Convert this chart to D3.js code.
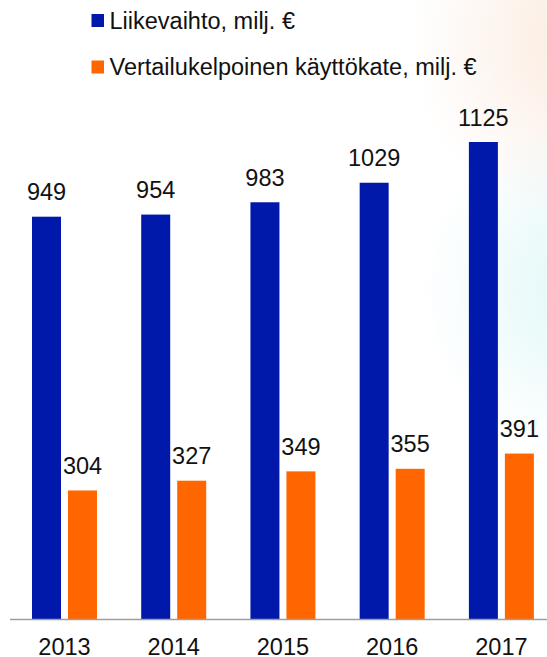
<!DOCTYPE html>
<html>
<head>
<meta charset="utf-8">
<script src="https://cdn.jsdelivr.net/npm/d3@7"></script>
<style>
  body { margin: 0; background: #fff; }
  svg { display: block; font-family: "Liberation Sans", Arial, sans-serif; }
</style>
</head>
<body>
<svg id="chart" width="547" height="657"></svg>
<script>

const years = ["2013", "2014", "2015", "2016", "2017"]
const liikevaihto = [949, 954, 983, 1029, 1125]
const kayttokate = [304, 327, 349, 355, 391]
const seriesNames = ["Liikevaihto, milj. €", "Vertailukelpoinen käyttökate, milj. €"]
const colours = ["#0019aa", "#ff6600"]

const svg = d3.select("#chart")
const width = 547
const baseline = 619.5

// faint background glow on the right
const defs = svg.append("defs")

const glows = [
  { id: "glowPeach", cx: 600, cy: 40, r: 190, colour: "#fbe9dc" },
  { id: "glowCyan", cx: 590, cy: 290, r: 170, colour: "#e0f7f7" }
]

glows.forEach((g) => {
  const grad = defs.append("radialGradient")
    .attr("id", g.id)
    .attr("gradientUnits", "userSpaceOnUse")
    .attr("cx", g.cx)
    .attr("cy", g.cy)
    .attr("r", g.r)
  grad.append("stop").attr("offset", 0).attr("stop-color", g.colour).attr("stop-opacity", 1)
  grad.append("stop").attr("offset", 1).attr("stop-color", g.colour).attr("stop-opacity", 0)

  svg.append("rect")
    .attr("width", width)
    .attr("height", 657)
    .attr("fill", `url(#${g.id})`)
})

const data = years.map((year, i) => ({
  year,
  values: [liikevaihto[i], kayttokate[i]]
}))

const x0 = d3.scaleBand()
  .domain(years)
  .range([9.875, 556])

const x1 = d3.scaleBand()
  .domain([0, 1])
  .range([-32.5, 32.5])
  .paddingInner(7 / 36)

const y = d3.scaleLinear()
  .domain([0, 1125])
  .range([baseline, 142])

const groups = svg.append("g")
  .selectAll("g")
  .data(data)
  .join("g")
  .attr("transform", (d) => `translate(${x0(d.year) + x0.bandwidth() / 2},0)`)

groups.selectAll("rect")
  .data((d) => d.values)
  .join("rect")
  .attr("x", (d, i) => x1(i))
  .attr("y", (d) => y(d))
  .attr("width", x1.bandwidth())
  .attr("height", (d) => baseline - y(d))
  .attr("fill", (d, i) => colours[i])

groups.selectAll("text")
  .data((d) => d.values)
  .join("text")
  .attr("x", (d, i) => x1(i) + x1.bandwidth() / 2)
  .attr("y", (d) => y(d) - 16.5)
  .attr("text-anchor", "middle")
  .attr("font-size", 23.5)
  .attr("fill", "#111")
  .text((d) => d)

// axis
const axis = svg.append("g")
  .attr("transform", `translate(0,${baseline})`)
  .call(d3.axisBottom(x0).tickSize(0).tickSizeOuter(0))

axis.select(".domain").remove()

axis.append("line")
  .attr("x1", 10)
  .attr("x2", width)
  .attr("stroke", "#9e9e9e")
  .attr("stroke-width", 1.5)

axis.selectAll(".tick text")
  .attr("y", 35.5)
  .attr("dy", 0)
  .attr("font-size", 23.5)
  .attr("font-family", "Liberation Sans, Arial, sans-serif")
  .attr("fill", "#111")

// legend
const legend = svg.append("g")
  .selectAll("g")
  .data(seriesNames)
  .join("g")
  .attr("transform", (d, i) => `translate(91.5,${14 + i * 46.5})`)

legend.append("rect")
  .attr("width", 12.5)
  .attr("height", 13)
  .attr("fill", (d, i) => colours[i])

legend.append("text")
  .attr("x", 18)
  .attr("y", 14.5)
  .attr("font-size", 23.5)
  .attr("fill", "#111")
  .text((d) => d)

</script>
</body>
</html>
